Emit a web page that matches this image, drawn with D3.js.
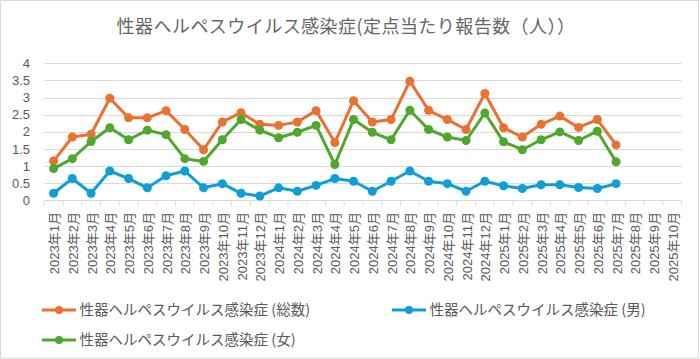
<!DOCTYPE html>
<html>
<head>
<meta charset="utf-8">
<script src="https://cdn.jsdelivr.net/npm/d3@7.9.0/dist/d3.min.js"></script>
<style>
  body { margin: 0; background: #fff; }
  svg { display: block; font-family: "Liberation Sans", "Noto Sans CJK JP", sans-serif; }
  .cjk { font-family: "Noto Sans CJK JP", sans-serif; }
</style>
</head>
<body>
<svg id="chart" width="700" height="359"></svg>
<script>
// months on the x axis (data only goes up to 2025年7月)
const months = [];
for (let y = 2023; y <= 2025; y++) {
  for (let m = 1; m <= 12; m++) {
    if (y === 2025 && m > 10) break;
    months.push(`${y}年${m}月`);
  }
}

const total = [1.15, 1.85, 1.93, 2.98, 2.41, 2.41, 2.62, 2.07, 1.48, 2.29,
  2.56, 2.22, 2.19, 2.29, 2.62, 1.69, 2.91, 2.29, 2.36, 3.48,
  2.63, 2.36, 2.07, 3.12, 2.12, 1.85, 2.22, 2.46, 2.13, 2.36, 1.62];
const male = [0.21, 0.64, 0.21, 0.86, 0.64, 0.37, 0.72, 0.86, 0.37, 0.49,
  0.21, 0.13, 0.37, 0.27, 0.44, 0.64, 0.56, 0.27, 0.56, 0.86,
  0.56, 0.49, 0.27, 0.56, 0.43, 0.35, 0.46, 0.46, 0.38, 0.35, 0.49];
const female = [0.93, 1.22, 1.72, 2.12, 1.77, 2.05, 1.92, 1.22, 1.14, 1.77,
  2.36, 2.05, 1.83, 1.99, 2.19, 1.05, 2.36, 1.99, 1.77, 2.63,
  2.07, 1.85, 1.75, 2.55, 1.71, 1.48, 1.77, 2.0, 1.75, 2.02, 1.13];

const yTicks = [0, 0.5, 1, 1.5, 2, 2.5, 3, 3.5, 4];

const title = "性器ヘルペスウイルス感染症(定点当たり報告数（人））";
const series = [
  { name: "性器ヘルペスウイルス感染症 (総数)", values: total, color: "#E97132" },
  { name: "性器ヘルペスウイルス感染症 (男)", values: male, color: "#0F9ED5" },
  { name: "性器ヘルペスウイルス感染症 (女)", values: female, color: "#4EA72E" }
];

const svg = d3.select("#chart");
const textColor = "#595959";
const gridColor = "#D9D9D9";

// outer border
svg.append("rect")
  .attr("x", 0.5).attr("y", 0.5)
  .attr("width", 698).attr("height", 357.5)
  .attr("fill", "#fff").attr("stroke", gridColor);

const x = d3.scaleBand().domain(months).range([44.2, 681.7]);
const y = d3.scaleLinear().domain([0, 4]).range([200.5, 63.3]);

// title
svg.append("text")
  .attr("class", "cjk")
  .attr("x", 346).attr("y", 33)
  .attr("text-anchor", "middle")
  .attr("font-size", 18)
  .attr("letter-spacing", 0.45)
  .attr("fill", "#666")
  .text(title);

// grid lines
svg.append("g")
  .selectAll("line")
  .data(yTicks.filter(d => d > 0))
  .join("line")
  .attr("x1", x.range()[0]).attr("x2", x.range()[1])
  .attr("y1", d => Math.round(y(d)) + 0.5).attr("y2", d => Math.round(y(d)) + 0.5)
  .attr("stroke", gridColor).attr("stroke-width", 1);

// y labels
svg.append("g")
  .selectAll("text")
  .data(yTicks)
  .join("text")
  .attr("x", 30).attr("y", d => y(d))
  .attr("dy", "0.35em")
  .attr("text-anchor", "end")
  .attr("font-size", 13)
  .attr("fill", textColor)
  .text(d => d);

// x axis line + ticks between categories
const xAxis = svg.append("g");
xAxis.append("line")
  .attr("x1", x.range()[0]).attr("x2", x.range()[1])
  .attr("y1", 200.5).attr("y2", 200.5)
  .attr("stroke", gridColor);
xAxis.selectAll("line.tick")
  .data(d3.range(months.length + 1))
  .join("line")
  .attr("class", "tick")
  .attr("x1", i => x.range()[0] + i * x.step())
  .attr("x2", i => x.range()[0] + i * x.step())
  .attr("y1", 200.5).attr("y2", 205.5)
  .attr("stroke", gridColor);

xAxis.selectAll("text")
  .data(months)
  .join("text")
  .attr("transform", d => `translate(${x(d) + x.bandwidth() / 2 + 1},212) rotate(-90)`)
  .attr("dy", "0.35em")
  .attr("text-anchor", "end")
  .attr("font-size", 13)
  .attr("fill", textColor)
  .text(d => d);

// lines
const line = d3.line()
  .x((d, i) => x(months[i]) + x.bandwidth() / 2)
  .y(d => y(d));

const drawOrder = [series[0], series[2], series[1]];
drawOrder.forEach(s => {
  const g = svg.append("g");
  g.append("path")
    .attr("d", line(s.values))
    .attr("fill", "none")
    .attr("stroke", s.color)
    .attr("stroke-width", 3)
    .attr("stroke-linejoin", "round");
  g.selectAll("circle")
    .data(s.values)
    .join("circle")
    .attr("cx", (d, i) => x(months[i]) + x.bandwidth() / 2)
    .attr("cy", d => y(d))
    .attr("r", 4.5)
    .attr("fill", s.color);
});

// legend
const legendPos = [
  { lx: 42, ly: 310 },
  { lx: 392, ly: 310 },
  { lx: 42, ly: 340 }
];
series.forEach((s, i) => {
  const p = legendPos[i];
  const g = svg.append("g").attr("transform", `translate(${p.lx},${p.ly})`);
  g.append("line")
    .attr("x1", 0).attr("x2", 34)
    .attr("stroke", s.color).attr("stroke-width", 3);
  g.append("circle").attr("cx", 17).attr("r", 4).attr("fill", s.color);
  g.append("text")
    .attr("class", "cjk")
    .attr("x", 37.5)
    .attr("dy", "0.36em")
    .attr("font-size", 14.5)
    .attr("fill", textColor)
    .text(s.name);
});
</script>
</body>
</html>
